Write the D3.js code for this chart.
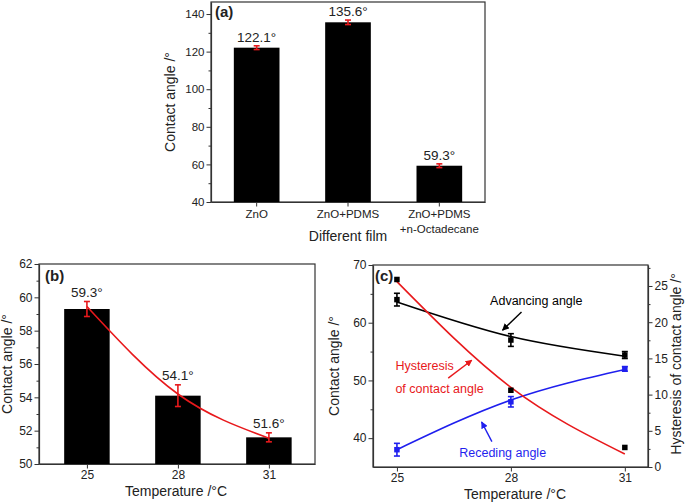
<!DOCTYPE html>
<html>
<head>
<meta charset="utf-8">
<script src="https://cdn.jsdelivr.net/npm/d3@7"></script>
<style>
body { margin: 0; background: #fff; }
svg text { font-family: "Liberation Sans", Arial, sans-serif; fill: #222; }
</style>
</head>
<body>
<script>
// DATA
// (a) contact angle of the different films
const films = ['ZnO', 'ZnO+PDMS', 'ZnO+PDMS|+n-Octadecane'];
const filmAngles = [122.1, 135.6, 59.3];
const filmErrors = [1.0, 1.2, 1.0];

// (b) contact angle vs temperature
const temps = [25, 28, 31];
const tempAngles = [59.3, 54.1, 51.6];
const tempErrors = [0.45, 0.65, 0.27];
const tempFit = [59.45, 54.2, 51.55];

// (c) advancing / receding / hysteresis vs temperature
const advAngles = [64.0, 57.0, 54.4];
const advErrors = [1.1, 1.1, 0.6];
const advFit = [63.6, 57.6, 54.2];
const recAngles = [38.0, 46.3, 52.0];
const recErrors = [1.1, 0.9, 0.4];
const recFit = [38.0, 46.6, 51.9];
const hysValues = [25.9, 10.6, 2.7];
const hysFit = [25.6, 11.0, 1.8];

const RED = '#e8191c';
const BLUE = '#1f1fee';
const FRAME = '#333';

const svg = d3.select('body')
	.append('svg')
	.attr('width', 685)
	.attr('height', 504);

const defs = svg.append('defs');
[['arrow-k', '#000'], ['arrow-r', RED], ['arrow-b', BLUE]].forEach(([id, color]) => {
	defs.append('marker')
		.attr('id', id)
		.attr('viewBox', '0 0 10 10')
		.attr('refX', 9)
		.attr('refY', 5)
		.attr('markerWidth', 5)
		.attr('markerHeight', 5)
		.attr('orient', 'auto')
		.append('path')
		.attr('d', 'M0,0 L10,5 L0,10 z')
		.attr('fill', color);
});

// helper: axis with major + minor ticks
function drawAxis(g, axisFn, scale, major, minor, translate, fontSize) {
	const minorG = g.append('g')
		.attr('transform', translate)
		.call(axisFn(scale).tickValues(minor).tickSize(2.5).tickSizeOuter(0).tickFormat(''));
	minorG.select('.domain').remove();
	const majorG = g.append('g')
		.attr('transform', translate)
		.call(axisFn(scale).tickValues(major).tickSize(4.5).tickSizeOuter(0).tickPadding(2));
	[minorG, majorG].forEach(a => {
		a.selectAll('line').attr('stroke', FRAME);
		a.selectAll('.domain').attr('stroke', FRAME).attr('stroke-width', 1.2);
	});
	majorG.selectAll('text').attr('font-size', fontSize).attr('fill', '#222');
	return majorG;
}

function frame(g, x0, x1, y0, y1) {
	g.append('rect')
		.attr('x', x0).attr('y', y0)
		.attr('width', x1 - x0).attr('height', y1 - y0)
		.attr('fill', 'none')
		.attr('stroke', FRAME)
		.attr('stroke-width', 1.2);
}

function errorBars(g, data, x, y, color, cap) {
	const eb = g.selectAll(null).data(data).enter().append('g')
		.attr('stroke', color).attr('stroke-width', 1.6);
	eb.append('line')
		.attr('x1', d => x(d.x)).attr('x2', d => x(d.x))
		.attr('y1', d => y(d.v - d.e)).attr('y2', d => y(d.v + d.e));
	eb.append('line')
		.attr('x1', d => x(d.x) - cap).attr('x2', d => x(d.x) + cap)
		.attr('y1', d => y(d.v + d.e)).attr('y2', d => y(d.v + d.e));
	eb.append('line')
		.attr('x1', d => x(d.x) - cap).attr('x2', d => x(d.x) + cap)
		.attr('y1', d => y(d.v - d.e)).attr('y2', d => y(d.v - d.e));
}

// PANEL (a)
{
	const g = svg.append('g');
	const x = d3.scaleBand().domain(films).range([211, 485]).paddingInner(0.5).paddingOuter(0.25);
	const y = d3.scaleLinear().domain([40, 146.4]).range([202, 2]);
	frame(g, 211, 485, 2, 202);

	g.selectAll('.bar-a').data(films).enter().append('rect')
		.attr('x', d => x(d))
		.attr('y', (d, i) => y(filmAngles[i]))
		.attr('width', x.bandwidth())
		.attr('height', (d, i) => y(40) - y(filmAngles[i]))
		.attr('fill', '#000');

	const cx = d => x(d) + x.bandwidth() / 2;
	errorBars(g, films.map((f, i) => ({ x: f, v: filmAngles[i], e: filmErrors[i] })),
		cx, y, RED, 3);

	g.selectAll('.lab-a').data(films).enter().append('text')
		.attr('x', cx)
		.attr('y', (d, i) => y(filmAngles[i]) - 6)
		.attr('text-anchor', 'middle')
		.attr('font-size', 13.5)
		.text((d, i) => filmAngles[i].toFixed(1) + '°');

	drawAxis(g, d3.axisLeft, y, d3.range(40, 141, 20), d3.range(50, 141, 20), 'translate(211,0)', 11.5);
	const xg = g.append('g').attr('transform', 'translate(0,202)')
		.call(d3.axisBottom(x).tickSize(4.5).tickSizeOuter(0).tickPadding(3));
	xg.selectAll('line').attr('stroke', FRAME);
	xg.select('.domain').attr('stroke', FRAME).attr('stroke-width', 1.2);
	xg.selectAll('text').each(function (d) {
		const t = d3.select(this).text('').attr('font-size', 11.5).attr('fill', '#222');
		d.split('|').forEach((part, i) => {
			t.append('tspan').attr('x', 0).attr('dy', i === 0 ? '0.71em' : '1.3em').text(part);
		});
	});

	g.append('text')
		.attr('transform', 'translate(175,102) rotate(-90)')
		.attr('text-anchor', 'middle')
		.attr('font-size', 14)
		.text('Contact angle /°');
	g.append('text')
		.attr('x', 348).attr('y', 241)
		.attr('text-anchor', 'middle')
		.attr('font-size', 14)
		.text('Different film');
	g.append('text')
		.attr('x', 215).attr('y', 17)
		.attr('font-size', 15).attr('font-weight', 'bold')
		.text('(a)');
}

// PANEL (b)
{
	const g = svg.append('g');
	const x = d3.scaleLinear().domain([23.42, 32.52]).range([39, 315]);
	const y = d3.scaleLinear().domain([50, 62]).range([464, 264]);
	frame(g, 39, 315, 264, 464);

	g.selectAll('.bar-b').data(temps).enter().append('rect')
		.attr('x', d => x(d - 0.75))
		.attr('y', (d, i) => y(tempAngles[i]))
		.attr('width', x(26.5) - x(25))
		.attr('height', (d, i) => y(50) - y(tempAngles[i]))
		.attr('fill', '#000');

	g.append('path')
		.datum(temps.map((t, i) => [t, tempFit[i]]))
		.attr('d', d3.line().x(d => x(d[0])).y(d => y(d[1])).curve(d3.curveNatural))
		.attr('fill', 'none')
		.attr('stroke', RED)
		.attr('stroke-width', 1.6);

	errorBars(g, temps.map((t, i) => ({ x: t, v: tempAngles[i], e: tempErrors[i] })), x, y, RED, 3);

	g.selectAll('.lab-b').data(temps).enter().append('text')
		.attr('x', d => x(d))
		.attr('y', (d, i) => y(tempAngles[i] + tempErrors[i]) - 5)
		.attr('text-anchor', 'middle')
		.attr('font-size', 13.5)
		.text((d, i) => tempAngles[i].toFixed(1) + '°');

	drawAxis(g, d3.axisLeft, y, d3.range(50, 63, 2), d3.range(51, 62, 2), 'translate(39,0)', 12);
	drawAxis(g, d3.axisBottom, x, temps, [], 'translate(0,464)', 12);

	g.append('text')
		.attr('transform', 'translate(12,364) rotate(-90)')
		.attr('text-anchor', 'middle')
		.attr('font-size', 14)
		.text('Contact angle /°');
	g.append('text')
		.attr('x', 176).attr('y', 496)
		.attr('text-anchor', 'middle')
		.attr('font-size', 14)
		.text('Temperature /°C');
	g.append('text')
		.attr('x', 45).attr('y', 281)
		.attr('font-size', 15).attr('font-weight', 'bold')
		.text('(b)');
}

// PANEL (c)
{
	const g = svg.append('g');
	const x = d3.scaleLinear().domain([24.37, 31.61]).range([373, 648]);
	const y = d3.scaleLinear().domain([35, 70]).range([467, 265]);
	const y2 = d3.scaleLinear().domain([0, 27.9]).range([467, 265]);
	frame(g, 373, 648, 265, 467);

	const line = (ys) => d3.line().x(d => x(d[0])).y(d => ys(d[1])).curve(d3.curveNatural);
	const series = [
		{ fit: advFit, ys: y, color: '#000' },
		{ fit: recFit, ys: y, color: BLUE },
		{ fit: hysFit, ys: y2, color: RED }
	];
	series.forEach(s => {
		g.append('path')
			.datum(temps.map((t, i) => [t, s.fit[i]]))
			.attr('d', line(s.ys))
			.attr('fill', 'none')
			.attr('stroke', s.color)
			.attr('stroke-width', 1.6);
	});

	errorBars(g, temps.map((t, i) => ({ x: t, v: advAngles[i], e: advErrors[i] })), x, y, '#000', 3);
	errorBars(g, temps.map((t, i) => ({ x: t, v: recAngles[i], e: recErrors[i] })), x, y, BLUE, 3);

	const sq = 5.5;
	const squares = (vals, ys, color) => {
		g.selectAll(null).data(temps).enter().append('rect')
			.attr('x', d => x(d) - sq / 2)
			.attr('y', (d, i) => ys(vals[i]) - sq / 2)
			.attr('width', sq).attr('height', sq)
			.attr('fill', color);
	};
	squares(advAngles, y, '#000');
	squares(recAngles, y, BLUE);
	squares(hysValues, y2, '#000');

	drawAxis(g, d3.axisLeft, y, [40, 50, 60, 70], [45, 55, 65], 'translate(373,0)', 12);
	drawAxis(g, d3.axisRight, y2, d3.range(0, 26, 5), d3.range(2.5, 28, 5), 'translate(648,0)', 12);
	drawAxis(g, d3.axisBottom, x, temps, [], 'translate(0,467)', 12);

	// annotations
	const arrows = [
		{ from: [28.28, 61.85], to: [27.78, 58.7], marker: 'arrow-k', color: '#000' },
		{ from: [26.35, 50.4], to: [26.97, 53.5], marker: 'arrow-r', color: RED },
		{ from: [27.5, 39.4], to: [27.23, 42.8], marker: 'arrow-b', color: BLUE }
	];
	arrows.forEach(a => {
		g.append('line')
			.attr('x1', x(a.from[0])).attr('y1', y(a.from[1]))
			.attr('x2', x(a.to[0])).attr('y2', y(a.to[1]))
			.attr('stroke', a.color).attr('stroke-width', 1.4)
			.attr('marker-end', `url(#${a.marker})`);
	});
	const notes = [
		{ text: 'Advancing angle', at: [28.67, 63.0], anchor: 'middle', color: '#000' },
		{ text: 'Hysteresis', at: [24.96, 51.8], anchor: 'start', color: RED },
		{ text: 'of contact angle', at: [24.96, 47.9], anchor: 'start', color: RED },
		{ text: 'Receding angle', at: [26.64, 36.8], anchor: 'start', color: BLUE }
	];
	notes.forEach(n => {
		g.append('text')
			.attr('x', x(n.at[0])).attr('y', y(n.at[1]))
			.attr('text-anchor', n.anchor)
			.attr('font-size', 12.5)
			.style('fill', n.color)
			.text(n.text);
	});

	g.append('text')
		.attr('transform', 'translate(339,366) rotate(-90)')
		.attr('text-anchor', 'middle')
		.attr('font-size', 14)
		.text('Contact angle /°');
	g.append('text')
		.attr('transform', 'translate(681,364) rotate(-90)')
		.attr('text-anchor', 'middle')
		.attr('font-size', 14)
		.text('Hysteresis of contact angle /°');
	g.append('text')
		.attr('x', 515).attr('y', 499)
		.attr('text-anchor', 'middle')
		.attr('font-size', 14)
		.text('Temperature /°C');
	g.append('text')
		.attr('x', 375).attr('y', 281)
		.attr('font-size', 15).attr('font-weight', 'bold')
		.text('(c)');
}
</script>
</body>
</html>
